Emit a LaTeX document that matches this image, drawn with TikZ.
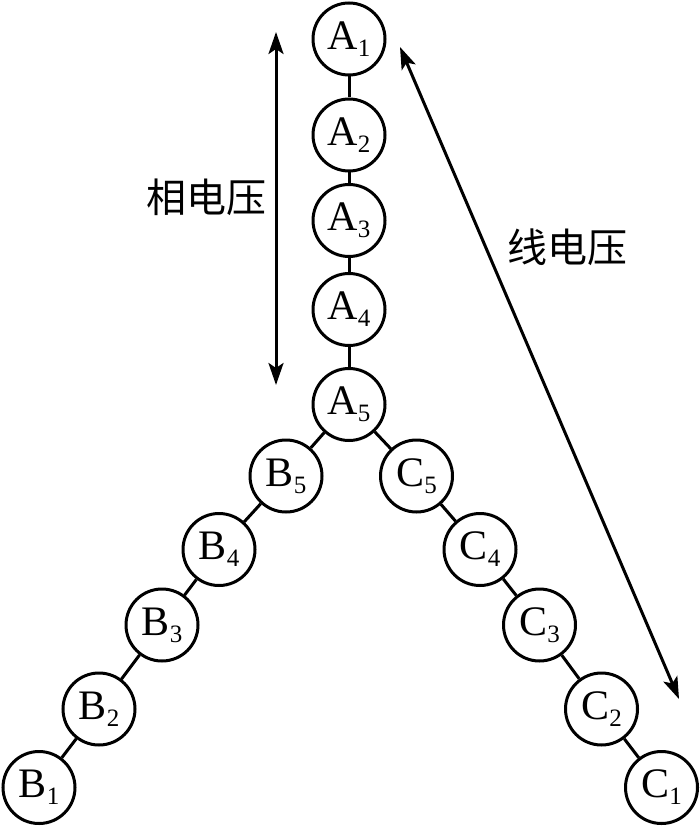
\documentclass[tikz,border=0pt]{standalone}
\usepackage{fontspec}
\setmainfont{Liberation Serif}
\newfontfamily\cjk{Noto Sans CJK SC}
\usetikzlibrary{arrows.meta}
\newcommand{\coil}[2]{#1{\fontsize{25}{25}\selectfont\raisebox{-7pt}{#2}}}

\begin{document}
\begin{tikzpicture}[x=1pt,y=-1pt,
  ball/.style={circle,draw,line width=3pt,minimum size=72pt,inner sep=0pt,
    font=\fontsize{42}{42}\selectfont},
  wire/.style={line width=3pt},
  volt/.style={line width=3pt,
    {Stealth[length=22pt,width=15pt,inset=5pt]}-{Stealth[length=22pt,width=15pt,inset=5pt]}}]
  \useasboundingbox (0,0) rectangle (700,826);

  % phase A
  \node[ball] at (349,39) (a1) {\coil{A}{1}};
  \node[ball] at (349,135) (a2) {\coil{A}{2}};
  \node[ball] at (349,220.5) (a3) {\coil{A}{3}};
  \node[ball] at (349,309.5) (a4) {\coil{A}{4}};
  \node[ball] at (349,404.5) (a5) {\coil{A}{5}};

  % phase B
  \node[ball] at (286,476) (b5) {\coil{B}{5}};
  \node[ball] at (219,549.5) (b4) {\coil{B}{4}};
  \node[ball] at (162,625) (b3) {\coil{B}{3}};
  \node[ball] at (99,709) (b2) {\coil{B}{2}};
  \node[ball] at (39,787.5) (b1) {\coil{B}{1}};

  % phase C
  \node[ball] at (416.5,476) (c5) {\coil{C}{5}};
  \node[ball] at (480,549.5) (c4) {\coil{C}{4}};
  \node[ball] at (539.5,625) (c3) {\coil{C}{3}};
  \node[ball] at (601.5,709) (c2) {\coil{C}{2}};
  \node[ball] at (661.5,787.5) (c1) {\coil{C}{1}};

  \foreach \u/\v in {a1/a2,a2/a3,a3/a4,a4/a5,a5/b5,b5/b4,b4/b3,b3/b2,b2/b1,
    a5/c5,c5/c4,c4/c3,c3/c2,c2/c1}
    \draw[wire] (\u) -- (\v);

  % voltages
  \coordinate (ptop) at (276,32);
  \coordinate (pbot) at (276,385);
  \coordinate (ltop) at (400,47);
  \coordinate (lbot) at (679,699);
  \draw[volt] (ptop) -- (pbot);
  \draw[volt] (ltop) -- (lbot);

  \node[font=\cjk\fontsize{40}{40}\selectfont] at (206,197.5) (phase) {相电压};
  \node[font=\cjk\fontsize{40}{40}\selectfont] at (567,247.5) (line) {线电压};

\end{tikzpicture}
\end{document}
